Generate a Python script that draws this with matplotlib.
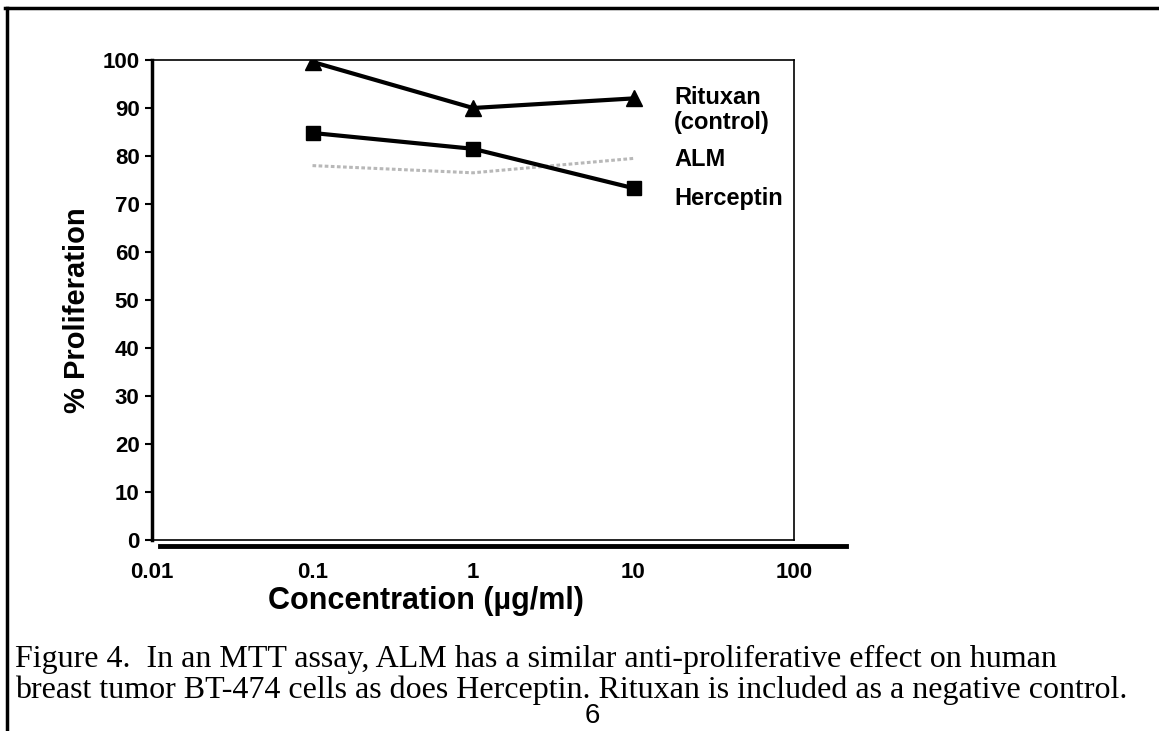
import matplotlib
matplotlib.use('Agg')
import matplotlib.pyplot as plt
from matplotlib.lines import Line2D

# data
conc = [0.1, 1, 10]
rituxan = [99.6, 90, 92]
alm = [78, 76.5, 79.5]
herceptin = [84.8, 81.5, 73.3]

xticks = [0.01, 0.1, 1, 10, 100]
xtick_labels = ["0.01", "0.1", "1", "10", "100"]
yticks = list(range(0, 101, 10))

plt.rcParams['font.family'] = ['Liberation Sans', 'DejaVu Sans']
plt.rcParams['font.weight'] = 'bold'

W, H = 1159, 731
fig = plt.figure(figsize=(W / 100, H / 100), dpi=100)

def fx(px):
    return px / W

def fy(py):
    return 1 - py / H

ax = fig.add_axes([fx(152), fy(540), fx(794) - fx(152), fy(60) - fy(540)])
ax.set_xscale('log')
ax.set_xlim(0.01, 100)
ax.set_ylim(0, 100)

ax.plot(conc, alm, color='#b8b8b8', linewidth=2.2, linestyle=(0, (1.2, 0.8)), zorder=2)
ax.plot(conc, rituxan, color='black', linewidth=3, marker='^', markersize=12, zorder=3)
ax.plot(conc, herceptin, color='black', linewidth=3, marker='s', markersize=10, zorder=3)

for sp in ['top', 'right', 'bottom']:
    ax.spines[sp].set_linewidth(1.2)
ax.spines['left'].set_linewidth(2.5)

ax.set_yticks(yticks)
ax.set_yticklabels([str(v) for v in yticks], fontsize=16, fontweight='bold')
ax.tick_params(axis='y', direction='out', length=5, width=1.5, pad=4)

ax.set_xticks(xticks)
ax.set_xticklabels(xtick_labels, fontsize=16, fontweight='bold')
ax.minorticks_off()
ax.tick_params(axis='x', direction='out', length=0, pad=16)

ax.set_ylabel('% Proliferation', fontsize=21, fontweight='bold')
ax.yaxis.label.set_va('center')
ax.yaxis.set_label_coords((77 - 152) / 642, (540 - 310) / 480)
ax.set_xlabel('Concentration (\u00b5g/ml)', fontsize=22, fontweight='bold')
ax.xaxis.label.set_va('center')
ax.xaxis.set_label_coords((426 - 152) / 642, (540 - 601) / 480)

# thick x axis line drawn slightly below the plot box
fig.add_artist(Line2D([fx(160), fx(846)], [fy(546), fy(546)], color='black', linewidth=3.5))

# series labels at the right
lab = dict(fontsize=17, fontweight='bold', va='center')
fig.text(fx(674), fy(98), 'Rituxan', **lab)
fig.text(fx(674), fy(123), '(control)', **lab)
fig.text(fx(674), fy(159), 'ALM', **lab)
fig.text(fx(674), fy(199), 'Herceptin', **lab)

# page frame
fig.add_artist(Line2D([fx(5), 1], [fy(8), fy(8)], color='black', linewidth=2.5))
fig.add_artist(Line2D([fx(7), fx(7)], [fy(8), 0], color='black', linewidth=2.5))

# caption
cap = dict(fontsize=23, fontweight='normal', family=['Liberation Serif', 'DejaVu Serif'], va='center')
fig.text(fx(15), fy(659), 'Figure 4.  In an MTT assay, ALM has a similar anti-proliferative effect on human', **cap)
fig.text(fx(15), fy(690), 'breast tumor BT-474 cells as does Herceptin. Rituxan is included as a negative control.', **cap)
# page number
fig.text(fx(592), fy(729), '6', fontsize=20, fontweight='normal', ha='center', va='bottom')

fig.savefig('out.png', dpi=100, facecolor='white')
